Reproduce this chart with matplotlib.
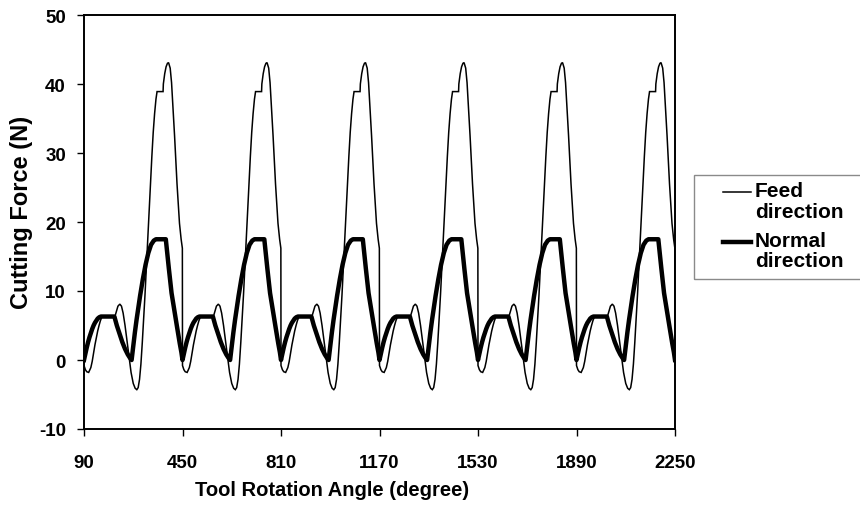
import matplotlib
matplotlib.use("Agg")
import matplotlib.pyplot as plt
from matplotlib.lines import Line2D
from matplotlib.patches import Rectangle
import numpy as np

# One tool revolution (360 deg), repeated 6 times from 90 deg
start_angle = 90
n_turns = 6
turn = 360

# Feed direction (thin line): offset in degrees within one turn, force in N
feed_angle = [0, 5, 10, 17, 25, 30, 35, 40, 45, 50, 55, 60, 66,
              113, 118, 124, 131, 137, 143, 150, 157, 165, 172, 180, 187, 193,
              198, 203, 208, 213, 218, 223, 228, 233, 238, 243, 248, 253, 258,
              263, 267, 289, 290, 295, 300, 305, 309, 315, 320, 325, 331, 340,
              349, 355, 359.5]
feed_force = [-0.8, -1.4, -1.7, -1.8, -1.1, -0.2, 1.0, 2.2, 3.2, 4.2, 5.0, 5.7, 6.3,
              6.3, 7.0, 7.8, 8.1, 7.8, 6.8, 5.0, 2.8, 0.3, -1.8, -3.4, -4.1, -4.3,
              -4.0, -2.8, -0.6, 2.5, 6.0, 9.5, 13.5, 17.5, 21.5, 25.5, 29.5, 33.0, 35.7,
              37.8, 38.9, 38.9, 40.0, 41.5, 42.5, 43.0, 43.1, 42.3, 40.2, 36.8, 32.5, 25.5,
              19.8, 17.5, 16.2]

# Normal direction (thick line)
normal_angle = [0, 5, 10, 15, 20, 25, 30, 35, 40, 45, 50, 56, 62,
                111, 120, 130, 140, 150, 160, 168, 174,
                180, 186, 192, 198, 205, 215, 225, 235, 245, 255, 263,
                299, 310, 320, 330, 340, 350, 356]
normal_force = [0.0, 0.9, 1.8, 2.6, 3.3, 3.9, 4.5, 5.0, 5.4, 5.7, 6.0, 6.2, 6.3,
                6.3, 5.0, 3.8, 2.6, 1.6, 0.8, 0.3, 0.0,
                2.0, 4.0, 5.8, 7.4, 9.3, 11.7, 13.8, 15.5, 16.7, 17.3, 17.5,
                17.5, 13.3, 9.7, 7.2, 4.8, 2.4, 1.1]

x_ticks = [90, 450, 810, 1170, 1530, 1890, 2250]
y_ticks = [-10, 0, 10, 20, 30, 40, 50]


def repeat_turns(angles, values):
    xs = [start_angle + k * turn + np.array(angles) for k in range(n_turns)]
    ys = [np.array(values)] * n_turns
    # close the last turn at 2250 with the value the next turn would start at
    xs.append([start_angle + n_turns * turn])
    ys.append([values[0]])
    return np.concatenate(xs), np.concatenate(ys)


feed_x, feed_y = repeat_turns(feed_angle, feed_force)
normal_x, normal_y = repeat_turns(normal_angle, normal_force)

plt.rcParams['font.family'] = ['Liberation Sans', 'DejaVu Sans']
plt.rcParams['font.weight'] = 'bold'
plt.rcParams['axes.unicode_minus'] = False

fig = plt.figure(figsize=(8.6, 5.1), dpi=100)
W, H = 860, 510
ax = fig.add_axes([84 / W, 1 - 430 / H, (675 - 84) / W, (430 - 16) / H])

ax.plot(feed_x, feed_y, color='black', lw=1.1, solid_joinstyle='miter')
ax.plot(normal_x, normal_y, color='black', lw=3.2, solid_joinstyle='round')

ax.set_xlim(90, 2250)
ax.set_ylim(-10, 50)
ax.set_xticks(x_ticks)
ax.set_yticks(y_ticks)
ax.tick_params(axis='both', direction='out', length=5, width=1, labelsize=13.5)
ax.tick_params(axis='x', pad=13)
ax.tick_params(axis='y', pad=8)
for s in ax.spines.values():
    s.set_linewidth(1.4)

ax.set_xlabel("Tool Rotation Angle (degree)", fontsize=14.5, fontweight='bold')
ax.xaxis.set_label_coords((332 - 84) / (675 - 84), -(481 - 430) / (430 - 16))
ax.set_ylabel("Cutting Force (N)", fontsize=17, fontweight='bold')
ax.yaxis.set_label_coords(-(84 - 33) / (675 - 84), (430 - 212) / (430 - 16))

# Legend drawn by hand so the handle sits next to the first text line
fig.patches.append(Rectangle((694 / W, 1 - 280 / H), 200 / W, 104 / H,
                             transform=fig.transFigure, fill=False,
                             edgecolor='#8a8a8a', linewidth=1.0))
fig.lines.append(Line2D([723 / W, 751 / W], [1 - 193 / H, 1 - 193 / H],
                        transform=fig.transFigure, color='black', lw=1.1))
fig.lines.append(Line2D([723 / W, 751 / W], [1 - 243 / H, 1 - 243 / H],
                        transform=fig.transFigure, color='black', lw=3.2))
fig.text(755 / W, 1 - 182 / H, "Feed\ndirection", fontsize=15, fontweight='bold',
         va='top', ha='left', linespacing=1.1, transform=fig.transFigure)
fig.text(755 / W, 1 - 232 / H, "Normal\ndirection", fontsize=15, fontweight='bold',
         va='top', ha='left', linespacing=1.1, transform=fig.transFigure)

fig.savefig("out.png", dpi=100)
